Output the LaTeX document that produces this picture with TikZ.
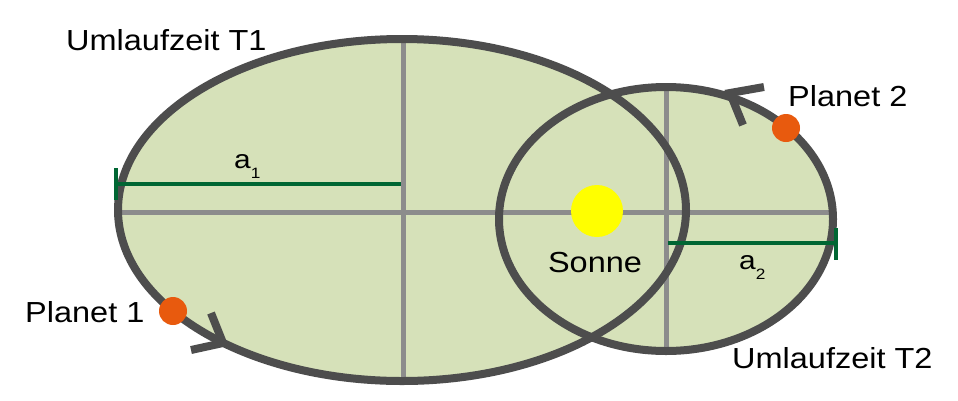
\documentclass[tikz,border=0pt]{standalone}
\usepackage{fontspec}
\setmainfont{Liberation Sans}
\definecolor{orbfill}{RGB}{214,225,185}
\definecolor{orbline}{RGB}{77,77,77}
\definecolor{axisgray}{RGB}{140,140,140}
\definecolor{semigreen}{RGB}{0,102,51}
\definecolor{planetorange}{RGB}{232,90,14}
\definecolor{sunyellow}{RGB}{255,255,0}
\newcommand{\bigtxt}[1]{\scalebox{1.12}[1]{\fontsize{29}{29}\selectfont #1}}
\newcommand{\semi}[1]{\scalebox{1.15}[1]{\fontsize{26}{26}\selectfont a\raisebox{-10pt}{\fontsize{15}{15}\selectfont #1}}}
\begin{document}
\begin{tikzpicture}[x=1pt,y=-1pt,
  orbit/.style={draw=orbline,line width=8pt},
  axisline/.style={draw=axisgray,line width=5pt},
  semiline/.style={draw=semigreen,line width=4pt},
  chevron/.style={draw=orbline,line width=8pt,line join=miter},
  planet/.style={circle,fill=planetorange,inner sep=0pt,minimum size=28pt},
  label/.style={inner sep=0pt,text=black}]
\useasboundingbox (0,0) rectangle (958,400);
% fills
\fill[orbfill] (402,210) ellipse [x radius=284,y radius=171];
\fill[orbfill] (666,219) ellipse [x radius=167,y radius=132];
% axes
\coordinate (hl) at (117,212); \coordinate (hr) at (835,212);
\coordinate (v1t) at (403,39); \coordinate (v1b) at (403,381);
\coordinate (v2t) at (666,87); \coordinate (v2b) at (666,351);
\draw[axisline] (hl) -- (hr);
\draw[axisline] (v1t) -- (v1b);
\draw[axisline] (v2t) -- (v2b);
% orbits
\draw[orbit] (402,210) ellipse [x radius=284,y radius=171];
\draw[orbit] (666,219) ellipse [x radius=167,y radius=132];
% direction chevrons
\draw[chevron] (211,313) -- (223,343) -- (191,350);
\draw[chevron] (764,87) -- (730,93) -- (743,125);
% semi-axes
\coordinate (a1l) at (117,184); \coordinate (a1r) at (401,184);
\draw[semiline] (a1l) -- (a1r);
\draw[semiline] (116,168) -- (116,200);
\coordinate (a2l) at (668,243); \coordinate (a2r) at (836,243);
\draw[semiline] (a2l) -- (a2r);
\draw[semiline] (836,228) -- (836,260);
% sun and planets
\node[circle,fill=sunyellow,inner sep=0pt,minimum size=52pt] (sun) at (597,211) {};
\node[planet] (p1) at (173,311) {};
\node[planet] (p2) at (786,128) {};
% labels
\node[label,anchor=base west] (t1) at (66,50) {\bigtxt{Umlaufzeit T1}};
\node[label,anchor=base west] (t2) at (732,368) {\bigtxt{Umlaufzeit T2}};
\node[label,anchor=base west] (lp1) at (25,322) {\bigtxt{Planet 1}};
\node[label,anchor=base west] (lp2) at (788,106) {\bigtxt{Planet 2}};
\node[label,anchor=base] (ls) at (595,272) {\bigtxt{Sonne}};
\node[label,anchor=base west] (la1) at (234,168) {\semi{1}};
\node[label,anchor=base west] (la2) at (739,269) {\semi{2}};
\end{tikzpicture}
\end{document}
